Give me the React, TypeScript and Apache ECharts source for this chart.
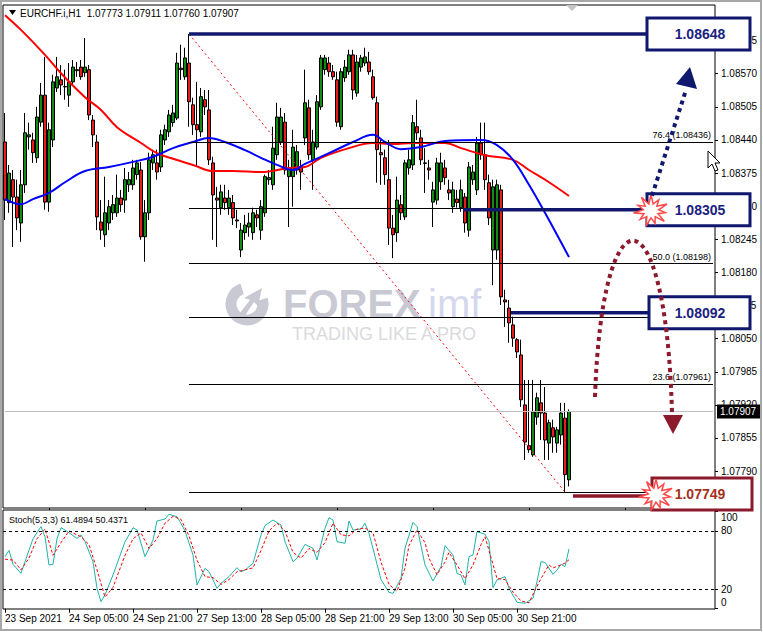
import React, { useEffect, useRef } from 'react';
import * as echarts from 'echarts';

// ---------- DATA ----------
const opens = [
  1.08436,1.08317,1.08362,1.08328,1.08277,1.08352,1.08446,1.08440,1.08405,1.08475,
  1.08528,1.08318,1.08440,1.08542,1.08558,1.08544,1.08528,1.08554,1.08578,1.08583,
  1.08572,1.08578,1.08479,1.08436,1.08279,1.08254,1.08277,1.08297,1.08297,1.08326,
  1.08322,1.08352,1.08352,1.08372,1.08381,1.08250,1.08297,1.08395,1.08395,1.08387,
  1.08440,1.08456,1.08474,1.08483,1.08581,1.08564,1.08591,1.08509,1.08470,1.08456,
  1.08519,1.08499,1.08395,1.08326,1.08307,1.08326,1.08307,1.08317,1.08283,1.08224,
  1.08258,1.08269,1.08258,1.08293,1.08263,1.08297,1.08362,1.08352,1.08411,1.08436,
  1.08475,1.08368,1.08368,1.08381,1.08387,1.08444,1.08503,1.08401,1.08426,1.08505,
  1.08578,1.08591,1.08574,1.08558,1.08466,1.08562,1.08574,1.08607,1.08532,1.08583,
  1.08591,1.08593,1.08564,1.08513,1.08415,1.08405,1.08362,1.08267,1.08258,1.08313,
  1.08289,1.08385,1.08391,1.08466,1.08444,1.08395,1.08385,1.08318,1.08322,1.08358,
  1.08385,1.08342,1.08309,1.08324,1.08307,1.08328,1.08263,1.08362,1.08342,1.08434,
  1.08411,1.08356,1.08224,1.08224,1.08342,1.08126,1.08110,1.08077,1.08048,1.08018,
  1.07920,1.07840,1.07822,1.07896,1.07924,1.07904,1.07845,1.07875,1.07845,1.07861,
  1.07894,1.07773
];
const closes = [
  1.08322,1.08375,1.08328,1.08287,1.08352,1.08454,1.08450,1.08415,1.08485,1.08528,
  1.08318,1.08460,1.08554,1.08564,1.08548,1.08545,1.08554,1.08583,1.08576,1.08564,
  1.08583,1.08489,1.08450,1.08289,1.08263,1.08297,1.08309,1.08313,1.08326,1.08313,
  1.08362,1.08362,1.08385,1.08395,1.08250,1.08297,1.08401,1.08411,1.08377,1.08450,
  1.08460,1.08489,1.08493,1.08591,1.08578,1.08601,1.08515,1.08470,1.08460,1.08525,
  1.08505,1.08401,1.08332,1.08322,1.08338,1.08317,1.08326,1.08287,1.08281,1.08263,
  1.08273,1.08277,1.08297,1.08287,1.08309,1.08368,1.08366,1.08424,1.08485,1.08485,
  1.08381,1.08385,1.08426,1.08417,1.08377,1.08513,1.08411,1.08436,1.08515,1.08601,
  1.08601,1.08574,1.08564,1.08475,1.08574,1.08583,1.08607,1.08538,1.08593,1.08601,
  1.08603,1.08574,1.08523,1.08421,1.08411,1.08372,1.08267,1.08254,1.08322,1.08297,
  1.08395,1.08401,1.08474,1.08454,1.08401,1.08394,1.08381,1.08342,1.08395,1.08395,
  1.08366,1.08336,1.08342,1.08317,1.08342,1.08277,1.08387,1.08377,1.08434,1.08411,
  1.08362,1.08287,1.08348,1.08352,1.08132,1.08122,1.08081,1.08051,1.08024,1.07930,
  1.07847,1.07832,1.07906,1.07934,1.07904,1.07851,1.07885,1.07857,1.07871,1.07904,
  1.07783,1.07907
];
const lows = [
  1.08283,1.08297,1.08230,1.08263,1.08240,1.08336,1.08421,1.08395,1.08395,1.08466,
  1.08303,1.08299,1.08426,1.08534,1.08528,1.08519,1.08505,1.08548,1.08564,1.08558,
  1.08564,1.08479,1.08426,1.08263,1.08244,1.08230,1.08263,1.08283,1.08289,1.08299,
  1.08297,1.08338,1.08342,1.08362,1.08244,1.08201,1.08283,1.08381,1.08362,1.08377,
  1.08430,1.08446,1.08466,1.08479,1.08558,1.08558,1.08466,1.08450,1.08387,1.08446,
  1.08489,1.08391,1.08244,1.08230,1.08293,1.08303,1.08293,1.08273,1.08267,1.08210,
  1.08244,1.08250,1.08244,1.08269,1.08244,1.08289,1.08352,1.08342,1.08401,1.08430,
  1.08372,1.08269,1.08309,1.08372,1.08342,1.08430,1.08401,1.08342,1.08421,1.08499,
  1.08568,1.08564,1.08558,1.08466,1.08460,1.08554,1.08568,1.08519,1.08525,1.08574,
  1.08585,1.08568,1.08519,1.08356,1.08352,1.08352,1.08234,1.08208,1.08240,1.08283,
  1.08283,1.08372,1.08381,1.08440,1.08391,1.08336,1.08362,1.08269,1.08313,1.08342,
  1.08352,1.08322,1.08297,1.08307,1.08299,1.08258,1.08250,1.08352,1.08332,1.08401,
  1.08342,1.08273,1.08155,1.08205,1.08116,1.08073,1.08042,1.08034,1.08012,1.07916,
  1.07812,1.07826,1.07818,1.07881,1.07851,1.07812,1.07812,1.07826,1.07826,1.07842,
  1.07749,1.07760
];
const highs = [
  1.08493,1.08391,1.08381,1.08362,1.08381,1.08493,1.08474,1.08454,1.08505,1.08552,
  1.08603,1.08474,1.08568,1.08603,1.08587,1.08578,1.08591,1.08597,1.08593,1.08597,
  1.08640,1.08587,1.08489,1.08450,1.08322,1.08368,1.08322,1.08332,1.08372,1.08342,
  1.08385,1.08377,1.08401,1.08401,1.08397,1.08322,1.08415,1.08421,1.08421,1.08460,
  1.08470,1.08499,1.08509,1.08611,1.08627,1.08621,1.08648,1.08523,1.08554,1.08542,
  1.08538,1.08538,1.08407,1.08348,1.08352,1.08352,1.08342,1.08332,1.08303,1.08277,
  1.08293,1.08297,1.08307,1.08303,1.08322,1.08372,1.08381,1.08466,1.08513,1.08503,
  1.08493,1.08401,1.08460,1.08430,1.08401,1.08578,1.08519,1.08460,1.08528,1.08607,
  1.08607,1.08603,1.08587,1.08574,1.08581,1.08597,1.08617,1.08617,1.08607,1.08607,
  1.08621,1.08613,1.08578,1.08525,1.08440,1.08421,1.08440,1.08293,1.08368,1.08332,
  1.08401,1.08421,1.08489,1.08519,1.08460,1.08424,1.08401,1.08358,1.08405,1.08415,
  1.08401,1.08362,1.08358,1.08342,1.08362,1.08336,1.08397,1.08391,1.08446,1.08474,
  1.08474,1.08372,1.08362,1.08362,1.08352,1.08146,1.08126,1.08093,1.08051,1.08048,
  1.07969,1.07969,1.07969,1.07944,1.07969,1.07955,1.07891,1.07891,1.07877,1.07924,
  1.07924,1.07911
];

// moving averages, read as [bar index, price]
const redMA = [
  [0,1.08685],[4,1.08656],[10,1.08607],[14,1.08571],[20,1.08524],[24,1.08499],[28,1.08465],
  [34,1.08434],[38,1.08414],[42,1.08403],[47,1.08391],[52,1.08379],[57,1.08379],[64,1.08377],
  [71,1.08385],[75,1.08387],[79,1.08405],[86,1.08424],[92,1.08434],[97,1.08432],[102,1.08434],
  [110,1.08434],[114,1.08424],[120,1.08410],[127,1.08401],[131,1.08381],[136,1.08357],[141,1.08330]
];
const blueMA = [
  [0,1.08324],[4,1.08314],[7,1.08324],[11,1.08336],[15,1.08357],[20,1.08379],[26,1.08387],
  [32,1.08397],[37,1.08407],[42,1.08424],[47,1.08436],[51,1.08444],[55,1.08436],[60,1.08420],
  [64,1.08405],[68,1.08391],[72,1.08381],[75,1.08393],[81,1.08414],[87,1.08436],[92,1.08450],
  [95,1.08436],[99,1.08422],[104,1.08426],[110,1.08438],[119,1.08440],[123,1.08430],
  [127,1.08401],[131,1.08352],[135,1.08297],[141,1.08210]
];

// stochastic (5,3,3), read as [bar index, value]
const stochMain = [
  [0,53.6],[1,60],[2,45.7],[4,36.4],[5,48.4],[7,72],[9,84.5],[10,74],[11,45],[12,45.7],[13,72],
  [14,83.4],[15,81],[18,72.4],[19,75.9],[20,69],[22,48.4],[23,21],[24,7.3],[25,14.2],[27,34.7],
  [30,69],[31,75.9],[32,83.4],[33,81],[35,53.6],[37,70.7],[38,90.3],[40,92.3],[41,97.2],[43,94.7],
  [44,87.9],[45,80],[47,55.3],[48,24.4],[50,41.5],[51,38.1],[53,21],[54,26.1],[56,33],[58,42.3],
  [59,38.1],[60,39.8],[62,46.7],[64,75.9],[65,85.5],[67,91.3],[69,86.2],[70,69],[72,48.4],
  [73,51.9],[75,66.2],[77,62.2],[78,50.2],[80,82.7],[81,93.7],[82,91.3],[83,69],[85,67.3],
  [86,90.3],[87,81],[89,82],[90,87.9],[91,77.6],[94,30],[96,16.8],[97,15.8],[99,31.3],[100,62.2],
  [102,88.9],[103,84.5],[105,45],[107,28.5],[109,43.3],[110,64.9],[112,55.3],[113,36.4],
  [114,34.7],[115,24.4],[116,53.6],[117,55.3],[118,79.3],[120,76.6],[121,69],[122,21.7],
  [123,29.6],[125,33],[126,21],[128,6.6],[130,5.6],[132,10.7],[133,27.9],[134,48.4],[135,47.7],
  [137,35.4],[138,39.8],[139,45.7],[140,43.3],[141,61.49]
];
const stochSignal = [
  [0,51],[2,50],[4,40],[6,52],[8,72],[10,82],[12,55],[14,68],[16,80],[19,74],[21,66],[23,40],
  [25,12],[27,22],[30,55],[32,72],[34,78],[36,62],[38,72],[40,88],[42,95],[44,92],[46,75],
  [48,50],[50,33],[52,32],[54,25],[56,30],[58,38],[60,40],[62,42],[64,60],[66,80],[68,88],
  [70,80],[72,58],[74,52],[76,62],[78,58],[80,68],[82,88],[84,76],[86,75],[88,82],[90,83],
  [92,78],[94,48],[96,25],[98,18],[100,42],[101,65],[103,81],[105,68],[106,52],[108,35],
  [110,48],[111,58],[113,45],[115,31],[117,45],[119,66],[120,74],[121,60],[123,31],[125,30],
  [127,17],[129,8],[131,6],[132,15],[134,31],[136,45],[137,42],[139,45],[140,47],[141,50.44]
];

const priceTicks = [1.0779,1.07855,1.0792,1.07985,1.0805,1.08115,1.0818,1.08245,1.0831,1.08375,1.0844,1.08505,1.0857,1.08635];
const stochTicks = [0, 20, 80, 100];
const stochLevels = [20, 80];

const fibLevels = [
  { pct: '0.0', price: 1.07749, label: false },
  { pct: '23.6', price: 1.07961, label: true },
  { pct: '38.2', price: 1.08092, label: false },
  { pct: '50.0', price: 1.08198, label: true },
  { pct: '61.8', price: 1.08305, label: false },
  { pct: '76.4', price: 1.08436, label: true },
  { pct: '100.0', price: 1.08648, label: false },
];
const fibStartBar = 46;
const fibEndBar = 140;
const currentPrice = 1.07907;

const headerText = 'EURCHF.i,H1  1.07773 1.07911 1.07760 1.07907';
const stochTitle = 'Stoch(5,3,3) 61.4894 50.4371';

// annotation boxes (targets)
const targets = [
  { text: '1.08648', price: 1.08648, linePrice: 1.08648, lineFromBar: 46, left: 647, stroke: '#10186e', color: '#1a2280', burst: false },
  { text: '1.08305', price: 1.08303, linePrice: 1.08303, lineFromBar: 114.5, left: 647, stroke: '#10186e', color: '#1a2280', burst: true },
  { text: '1.08092', price: 1.08101, linePrice: 1.08101, lineFromBar: 126.5, left: 649, stroke: '#10186e', color: '#1a2280', burst: false },
  { text: '1.07749', price: 1.07745, linePrice: 1.07741, lineFromBar: 142, left: 652, stroke: '#8c1a2c', color: '#a3311c', burst: true },
];

// ---------- helpers ----------
const MONTHS = ['Jan','Feb','Mar','Apr','May','Jun','Jul','Aug','Sep','Oct','Nov','Dec'];
const TOTAL_SLOTS = 178;
function makeCategories(): string[] {
  const out: string[] = [];
  let t = Date.UTC(2021, 8, 23, 13);
  const pad = (n: number) => (n < 10 ? '0' + n : '' + n);
  for (let i = 0; i < TOTAL_SLOTS; i++) {
    if (i < opens.length) {
      const d = new Date(t);
      out.push(i === 0
        ? `${d.getUTCDate()} ${MONTHS[d.getUTCMonth()]} ${d.getUTCFullYear()}`
        : `${d.getUTCDate()} ${MONTHS[d.getUTCMonth()]} ${pad(d.getUTCHours())}:00`);
      do { t += 3600000; } while ([0, 6].includes(new Date(t).getUTCDay()));
    } else out.push('');
  }
  return out;
}

const FONT = '"Liberation Sans", Arial, sans-serif';

function starPoints(cx: number, cy: number, rOut: number, rIn: number, n: number) {
  const pts: number[][] = [];
  for (let k = 0; k < 2 * n; k++) {
    const a = -Math.PI / 2 + (k * Math.PI) / n;
    const r = k % 2 ? rIn : rOut * (k % 4 === 0 ? 1 : 0.82);
    pts.push([cx + r * Math.cos(a) * 1.1, cy + r * Math.sin(a)]);
  }
  return pts;
}

export default function App() {
  const ref = useRef<HTMLDivElement>(null);
  useEffect(() => {
    const el = ref.current!;
    const chart = echarts.init(el, null, { renderer: 'svg' });
    const categories = makeCategories();
    const candleData = opens.map((o, i) => [o, closes[i], lows[i], highs[i]]);
    const yMin = 1.077176, yMax = 1.087049;

    const fibMarkData: any[] = fibLevels.map((f) => [
      {
        coord: [fibStartBar, f.price],
        label: f.label
          ? { show: true, position: 'insideEndTop', formatter: `${f.pct} (${f.price.toFixed(5)})`, color: '#000', fontSize: 9, fontFamily: FONT, distance: 2 }
          : { show: false },
      },
      { coord: [TOTAL_SLOTS - 1, f.price] },
    ]);

    const option: any = {
      animation: false,
      backgroundColor: '#ffffff',
      grid: [
        { left: 3, top: 5, width: 712, height: 503, show: true, borderColor: '#000', borderWidth: 1, backgroundColor: 'transparent' },
        { left: 3, top: 510, width: 712, height: 99, show: true, borderColor: '#000', borderWidth: 1, backgroundColor: 'transparent' },
      ],
      xAxis: [
        {
          type: 'category', gridIndex: 0, data: categories, boundaryGap: true,
          axisLine: { show: false },
          axisTick: { show: true, alignWithLabel: true, length: 2, lineStyle: { color: '#000' },
            interval: (i: number) => i >= 11 && (i - 11) % 24 === 0 },
          axisLabel: { show: false }, splitLine: { show: false },
        },
        {
          type: 'category', gridIndex: 1, data: categories, boundaryGap: true,
          axisLine: { show: false },
          axisTick: { show: true, alignWithLabel: true, length: 4, lineStyle: { color: '#000' },
            interval: (i: number) => i % 16 === 0 && i < opens.length },
          axisLabel: { show: true, align: 'left', margin: 4, color: '#000', fontSize: 10, fontFamily: FONT,
            interval: (i: number) => i % 16 === 0 && i < opens.length },
          splitLine: { show: false },
        },
      ],
      yAxis: [
        {
          type: 'value', gridIndex: 0, position: 'right', min: yMin, max: yMax, scale: true,
          axisLine: { show: false },
          axisTick: { show: true, length: 3, lineStyle: { color: '#000' }, customValues: priceTicks },
          axisLabel: { show: true, margin: 6, color: '#000', fontSize: 10, fontFamily: FONT,
            customValues: priceTicks, formatter: (v: number) => v.toFixed(5) },
          splitLine: { show: false },
        },
        {
          type: 'value', gridIndex: 1, position: 'right', min: -0.3, max: 101.6,
          axisLine: { show: false },
          axisTick: { show: true, length: 3, lineStyle: { color: '#000' }, customValues: stochTicks },
          axisLabel: { show: true, margin: 6, color: '#000', fontSize: 10, fontFamily: FONT,
            customValues: stochTicks,
            formatter: (v: number) => (v === 100 ? '{a|100}' : v === 0 ? '{b|0}' : String(v)),
            rich: {
              a: { padding: [11, 0, 0, 0], fontSize: 10, color: '#000', fontFamily: FONT },
              b: { padding: [0, 0, 13, 0], fontSize: 10, color: '#000', fontFamily: FONT },
            } },
          splitLine: { show: false },
        },
      ],
      series: [
        {
          name: 'currentPrice', type: 'line', xAxisIndex: 0, yAxisIndex: 0,
          data: [[0, currentPrice], [TOTAL_SLOTS - 1, currentPrice]],
          symbol: 'none', silent: true,
          lineStyle: { color: '#c0c0c0', width: 1, type: 'solid' },
        },
        {
          name: 'fibDiagonal', type: 'line', xAxisIndex: 0, yAxisIndex: 0,
          data: [[fibStartBar, fibLevels[6].price], [fibEndBar, fibLevels[0].price]],
          symbol: 'none', silent: true,
          lineStyle: { color: '#ff0000', width: 1, type: [2, 3] },
          markLine: {
            silent: true, symbol: ['none', 'none'], animation: false,
            lineStyle: { color: '#000', width: 1, type: 'solid' },
            label: { show: false },
            data: fibMarkData,
          },
        },
        {
          name: 'EURCHF', type: 'candlestick', xAxisIndex: 0, yAxisIndex: 0,
          data: candleData, barWidth: 3,
          itemStyle: { color: '#138a13', color0: '#e81c1c', borderColor: '#000', borderColor0: '#000', borderWidth: 1 },
        },
        {
          name: 'MA slow', type: 'line', xAxisIndex: 0, yAxisIndex: 0, data: redMA,
          symbol: 'none', smooth: 0.4, lineStyle: { color: '#ff0000', width: 2 },
        },
        {
          name: 'MA fast', type: 'line', xAxisIndex: 0, yAxisIndex: 0, data: blueMA,
          symbol: 'none', smooth: 0.4, lineStyle: { color: '#0000ff', width: 2 },
        },
        {
          name: 'Stoch main', type: 'line', xAxisIndex: 1, yAxisIndex: 1, data: stochMain,
          symbol: 'none', lineStyle: { color: '#20b2aa', width: 1 },
          markLine: {
            silent: true, symbol: ['none', 'none'], label: { show: false },
            lineStyle: { color: '#000', width: 1, type: [3, 3] },
            data: stochLevels.map((v) => ({ yAxis: v })),
          },
        },
        {
          name: 'Stoch signal', type: 'line', xAxisIndex: 1, yAxisIndex: 1, data: stochSignal,
          symbol: 'none', lineStyle: { color: '#ff0000', width: 1, type: [3, 2] },
        },
      ],
    };
    chart.setOption(option);

    const toPx = (bar: number, price: number) =>
      chart.convertToPixel({ xAxisIndex: 0, yAxisIndex: 0 } as any, [bar, price]) as number[];
    const py = (price: number) => toPx(0, price)[1];
    const bx = (bar: number) => {
      const a = toPx(Math.floor(bar), 1.08)[0];
      return a + (bar - Math.floor(bar)) * 4;
    };

    const els: any[] = [];
    // outer window frame
    els.push({ type: 'rect', z: 100, shape: { x: 1, y: 1, width: 760, height: 629 }, style: { fill: 'none', stroke: '#a8a8a8', lineWidth: 2 } });
    // watermark
    els.push({ type: 'arc', z: 0, shape: { cx: 247, cy: 304, r: 16, startAngle: -0.3, endAngle: 4.4, clockwise: true }, style: { fill: 'none', stroke: '#c9c9d4', lineWidth: 11 } });
    els.push({ type: 'polygon', z: 0, shape: { points: [[236, 318], [250, 300], [244, 298], [262, 288], [258, 306], [254, 302], [242, 320]] }, style: { fill: '#c9c9d4' } });
    els.push({ type: 'text', z: 0, style: { text: 'FOREX', x: 283, y: 304, font: `bold 40px ${FONT}`, fill: '#c9c9d4', align: 'left', verticalAlign: 'middle', textAlign: 'left', textVerticalAlign: 'middle' } });
    els.push({ type: 'text', z: 0, style: { text: 'imf', x: 428, y: 304, font: `40px ${FONT}`, fill: '#d5d7ee', align: 'left', verticalAlign: 'middle', textAlign: 'left', textVerticalAlign: 'middle' } });
    els.push({ type: 'text', z: 0, style: { text: 'TRADING LIKE A PRO', x: 292, y: 334, font: `18px ${FONT}`, fill: '#dadade', align: 'left', verticalAlign: 'middle', textAlign: 'left', textVerticalAlign: 'middle' } });

    // header texts
    els.push({ type: 'polygon', z: 100, shape: { points: [[9, 10], [16, 10], [12.5, 15]] }, style: { fill: '#000' } });
    els.push({ type: 'text', z: 100, style: { text: headerText, x: 20, y: 13, font: `10px ${FONT}`, fill: '#000', align: 'left', verticalAlign: 'middle', textAlign: 'left', textVerticalAlign: 'middle' } });
    els.push({ type: 'text', z: 100, style: { text: stochTitle, x: 9, y: 520, font: `9px ${FONT}`, fill: '#000', align: 'left', verticalAlign: 'middle', textAlign: 'left', textVerticalAlign: 'middle' } });
    // shift marker
    els.push({ type: 'polygon', z: 100, shape: { points: [[566, 5], [578, 5], [572, 11]] }, style: { fill: '#c4c4c4' } });

    // target lines, boxes
    targets.forEach((t) => {
      const yl = py(t.linePrice);
      els.push({ type: 'line', z: 90, shape: { x1: bx(t.lineFromBar), y1: yl, x2: t.left, y2: yl }, style: { stroke: t.stroke, lineWidth: 3.5 } });
    });
    targets.forEach((t) => {
      const yc = py(t.price);
      els.push({ type: 'rect', z: 95, shape: { x: t.left, y: yc - 16, width: 750 - t.left + (t.burst && t.stroke !== '#10186e' ? 2 : 0), height: 32 }, style: { fill: '#fff', stroke: t.stroke, lineWidth: 3 } });
      els.push({ type: 'text', z: 96, style: { text: t.text, x: 700, y: yc, font: `bold 14px ${FONT}`, fill: t.color, align: 'center', verticalAlign: 'middle', textAlign: 'center', textVerticalAlign: 'middle' } });
      if (t.burst) {
        els.push({ type: 'polygon', z: 97, shape: { points: starPoints(t.left + 4, yc + 1, 16, 7, 11) }, style: { fill: '#fff', stroke: '#ff4a4a', lineWidth: 1.5 } });
      }
    });

    // navy dotted arrow up
    const y305 = py(1.08303);
    els.push({ type: 'line', z: 98, shape: { x1: 652, y1: y305 - 14, x2: 686, y2: 90 }, style: { stroke: '#10186e', lineWidth: 4, lineDash: [4, 4] } });
    els.push({ type: 'polygon', z: 98, shape: { points: [[690, 67], [676, 84], [697, 89]] }, style: { fill: '#10186e' } });

    // maroon dotted arc with arrow down
    els.push({ type: 'bezierCurve', z: 98, shape: { x1: 595, y1: 397, cpx1: 602, cpy1: 186, cpx2: 666, cpy2: 186, x2: 672, y2: 413 }, style: { stroke: '#8c1a2c', lineWidth: 4, lineDash: [4, 4], fill: 'none' } });
    els.push({ type: 'polygon', z: 98, shape: { points: [[663, 415], [683, 415], [673, 434]] }, style: { fill: '#8c1a2c' } });

    // current price tag
    const yCur = py(currentPrice);
    els.push({ type: 'rect', z: 99, shape: { x: 717, y: yCur - 7, width: 44, height: 14 }, style: { fill: '#000' } });
    els.push({ type: 'text', z: 99, style: { text: currentPrice.toFixed(5), x: 720, y: yCur, font: `10px ${FONT}`, fill: '#fff', align: 'left', verticalAlign: 'middle', textAlign: 'left', textVerticalAlign: 'middle' } });

    // mouse cursor
    els.push({ type: 'polygon', z: 99, shape: { points: [[708, 151], [708, 168], [712, 164], [715, 171], [718, 170], [715, 163], [720, 163]] }, style: { fill: '#fff', stroke: '#000', lineWidth: 1 } });

    chart.setOption({ graphic: { elements: els } });
    return () => chart.dispose();
  }, []);

  return <div ref={ref} style={{ position: 'fixed', left: 0, top: 0, width: 763, height: 632, background: '#fff' }} />;
}
